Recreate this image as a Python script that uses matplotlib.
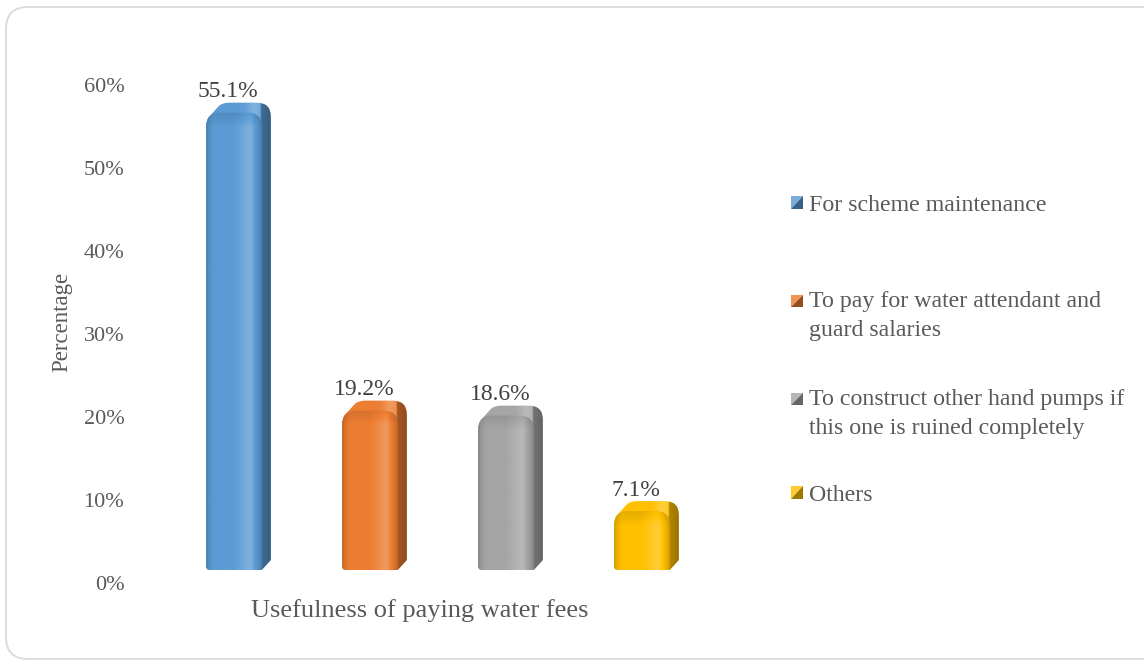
import numpy as np
import matplotlib
matplotlib.use("Agg")
import matplotlib.pyplot as plt
from matplotlib.patches import PathPatch, Polygon, FancyBboxPatch
from matplotlib.path import Path
from matplotlib.transforms import IdentityTransform
from matplotlib.legend_handler import HandlerBase
from matplotlib.colors import to_rgb

# ---- data ----
categories = [
    "For scheme maintenance",
    "To pay for water attendant and\nguard salaries",
    "To construct other hand pumps if\nthis one is ruined completely",
    "Others",
]
values = [55.1, 19.2, 18.6, 7.1]
value_labels = ["55.1%", "19.2%", "18.6%", "7.1%"]
ytick_values = [0, 10, 20, 30, 40, 50, 60]
ytick_labels = ["0%", "10%", "20%", "30%", "40%", "50%", "60%"]
x_title = "Usefulness of paying water fees"
y_title = "Percentage"

# ---- style ----
colors = ["#5B9BD5", "#ED7D31", "#A5A5A5", "#FFC000"]
text_color = "#595959"
font = "Liberation Serif"
W, H = 1144, 660
bar_width = 0.41
lift = 13        # px the column body sits above the floor line
depth_x = 9      # px of the side face
depth_y = 10
r_top = 14
r_bot = 4

plt.rcParams["font.family"] = [font, "DejaVu Serif"]

fig = plt.figure(figsize=(W / 100, H / 100), dpi=100)
ax = fig.add_axes([166 / W, 1 - 583 / H, 544 / W, 498 / H])
ax.set_xlim(-0.5, 3.5)
ax.set_ylim(0, 60)
for s in ax.spines.values():
    s.set_visible(False)
ax.set_xticks([])
ax.set_yticks(ytick_values)
ax.set_yticklabels(ytick_labels)
ax.tick_params(axis="y", length=0, pad=30, labelsize=16, labelcolor=text_color)

# chart border
fig.add_artist(FancyBboxPatch((6, 1), 1160, 652,
                              boxstyle="round,pad=0,rounding_size=22",
                              transform=IdentityTransform(),
                              facecolor="none", edgecolor="#D9D9D9", lw=1.3))


def shade(rgb, f):
    rgb = np.asarray(rgb)
    if f >= 1:
        return np.clip(rgb + (1 - rgb) * (f - 1) * 2.2, 0, 1)
    return rgb * f


def front_path(X0, X1, Yb, Yt):
    verts = [(X0, Yb + r_bot), (X0, Yt - r_top), (X0, Yt), (X0 + r_top, Yt),
             (X1 - r_top, Yt), (X1, Yt), (X1, Yt - r_top), (X1, Yb),
             (X0 + r_bot, Yb), (X0, Yb), (X0, Yb + r_bot), (X0, Yb + r_bot)]
    codes = [Path.MOVETO, Path.LINETO, Path.CURVE3, Path.CURVE3,
             Path.LINETO, Path.CURVE3, Path.CURVE3, Path.LINETO,
             Path.LINETO, Path.CURVE3, Path.CURVE3, Path.CLOSEPOLY]
    return Path(verts, codes)


def hull(points):
    pts = sorted(set(map(tuple, np.round(points, 3))))
    def cross(o, a, b):
        return (a[0] - o[0]) * (b[1] - o[1]) - (a[1] - o[1]) * (b[0] - o[0])
    lower, upper = [], []
    for p in pts:
        while len(lower) >= 2 and cross(lower[-2], lower[-1], p) <= 0:
            lower.pop()
        lower.append(p)
    for p in reversed(pts):
        while len(upper) >= 2 and cross(upper[-2], upper[-1], p) <= 0:
            upper.pop()
        upper.append(p)
    return np.array(lower[:-1] + upper[:-1])


to_disp = ax.transData.transform
to_data = ax.transData.inverted().transform

front_profile_t = [0, 0.05, 0.15, 0.5, 0.7, 0.8, 0.92, 1.0]
front_profile_f = [0.80, 0.92, 1.0, 1.0, 1.07, 1.10, 0.95, 0.82]
ncol = 160
tt = np.linspace(0, 1, ncol)
ff = np.interp(tt, front_profile_t, front_profile_f)

for i, (v, c) in enumerate(zip(values, colors)):
    base = to_rgb(c)
    X0, Yb = to_disp((i - bar_width / 2, 0))
    X1, Yt = to_disp((i + bar_width / 2, v))
    Yb += lift
    Yt += lift

    fp = front_path(X0, X1, Yb, Yt)
    pts = np.vstack(fp.to_polygons(closed_only=False))
    body = hull(np.vstack([pts, pts + [depth_x, depth_y]]))
    body_data = to_data(body)

    # body behind the front: rounded top face and darker side face
    bx0, bx1 = body[:, 0].min(), body[:, 0].max()
    by0, by1 = body[:, 1].min(), body[:, 1].max()
    nrow = 200
    bxs = np.linspace(bx0, bx1, ncol)
    img = np.zeros((nrow, ncol, 3))
    for k, x in enumerate(bxs):
        if x < X1 - 1:
            tx = (x - bx0) / (bx1 - bx0)
            col = shade(base, 1.0 + 0.1 * np.exp(-((tx - 0.75) / 0.12) ** 2))
        else:
            col = shade(base, 0.70 - 0.10 * (x - X1) / depth_x)
        img[:, k, :] = col
    body_patch = Polygon(body_data, closed=True, facecolor="none",
                         edgecolor="none", transform=ax.transData)
    ax.add_patch(body_patch)
    (dx0, dy0), (dx1, dy1) = to_data((bx0, by0)), to_data((bx1, by1))
    im = ax.imshow(img, extent=(dx0, dx1, dy0, dy1), aspect="auto",
                   interpolation="bilinear", zorder=2)
    im.set_clip_path(body_patch)

    # front face with horizontal shading and a soft rim near the top
    fverts = to_data(fp.vertices)
    front_patch = PathPatch(Path(fverts, fp.codes), facecolor="none",
                            edgecolor="none", transform=ax.transData)
    ax.add_patch(front_patch)
    fy_px = np.linspace(Yt, Yb, nrow)
    rim = np.clip((Yt - fy_px) / r_top, 0, 1)
    front_img = np.zeros((nrow, ncol, 3))
    for k, f in enumerate(ff):
        for j in range(nrow):
            g = f * (0.9 + 0.1 * rim[j]) if rim[j] < 1 else f
            front_img[j, k, :] = shade(base, g)
    (fx0, fy0), (fx1, fy1) = to_data((X0, Yb)), to_data((X1, Yt))
    im2 = ax.imshow(front_img, extent=(fx0, fx1, fy0, fy1), aspect="auto",
                    interpolation="bilinear", zorder=3)
    im2.set_clip_path(front_patch)

    ax.annotate(value_labels[i], xy=(i, v), xytext=(-6, lift + 21),
                textcoords="offset pixels", ha="center", va="center",
                fontsize=17, color="#404040", zorder=5)

ax.set_xlim(-0.5, 3.5)
ax.set_ylim(0, 60)

ax.set_xlabel(x_title, fontsize=19, color=text_color, va="center")
ax.xaxis.set_label_coords((420 - 166) / 544, -(611 - 583) / 498)
ax.set_ylabel(y_title, fontsize=16.5, color=text_color, va="center")
ax.yaxis.set_label_coords(-0.191, 0.524)


# legend keys: square split along the diagonal into light and dark halves
class SplitSquare(HandlerBase):
    def create_artists(self, legend, orig_handle, xdescent, ydescent,
                       width, height, fontsize, trans):
        base = to_rgb(orig_handle.get_facecolor())
        s = min(width, height)
        x0 = -xdescent + (width - s) / 2
        y0 = -ydescent + (height - s) / 2 + getattr(orig_handle, "raise_pt", 0)
        up = Polygon([(x0, y0), (x0, y0 + s), (x0 + s, y0 + s)], closed=True,
                     facecolor=shade(base, 1.08), edgecolor="none", transform=trans)
        lo = Polygon([(x0, y0), (x0 + s, y0), (x0 + s, y0 + s)], closed=True,
                     facecolor=shade(base, 0.62), edgecolor="none", transform=trans)
        return [up, lo]


legend_size = 17.2
line_pt = 29 * 72 / 100
entry_tops = [195, 291, 389, 485]
for lab, c, top in zip(categories, colors, entry_tops):
    h = Polygon([(0, 0)], facecolor=c)
    h.raise_pt = (lab.count("\n")) * line_pt / 2
    leg = fig.legend([h], [lab], loc="upper left",
                     bbox_to_anchor=(791 / W, 1 - top / H),
                     frameon=False, fontsize=legend_size, labelcolor=text_color,
                     handlelength=0.52, handleheight=0.52, handletextpad=0.25,
                     borderpad=0, borderaxespad=0,
                     handler_map={Polygon: SplitSquare()})
    for t in leg.get_texts():
        t.set_linespacing(1.47)

fig.savefig("out.png", dpi=100)
